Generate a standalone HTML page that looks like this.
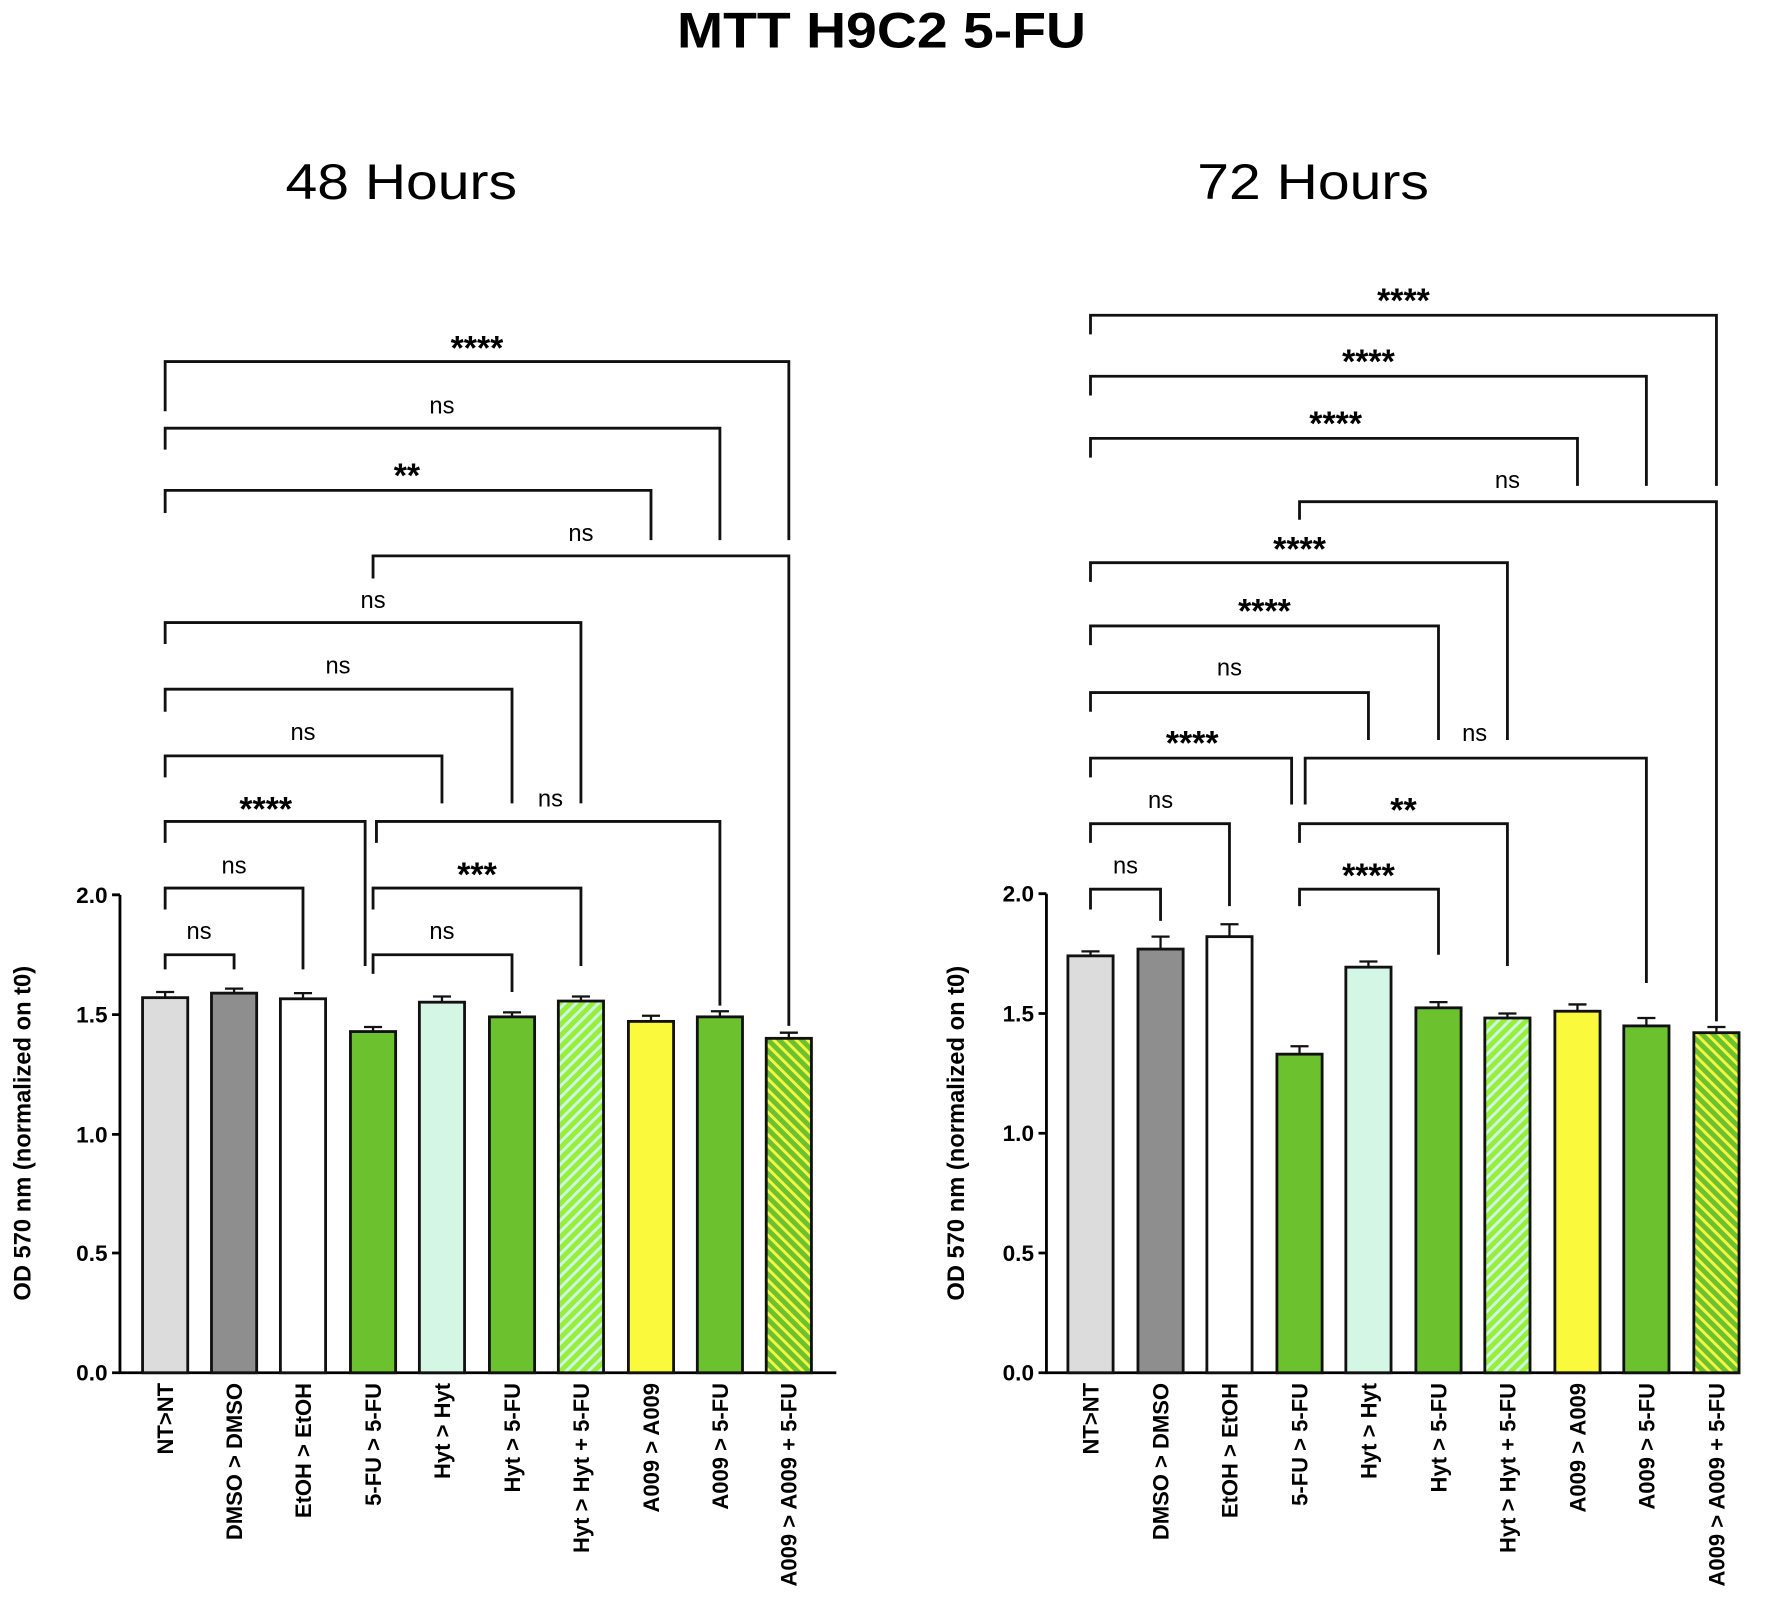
<!DOCTYPE html>
<html><head><meta charset="utf-8"><style>
html,body{margin:0;padding:0;background:#fff;}
svg{display:block;}
.t{font-family:"Liberation Sans",sans-serif;}
</style></head><body>
<svg width="1772" height="1601" viewBox="0 0 1568 1417" xmlns="http://www.w3.org/2000/svg">
<defs>
<pattern id="hh" patternUnits="userSpaceOnUse" width="7" height="7" patternTransform="rotate(45)">
<rect width="7" height="7" fill="#98ef3a"/><rect width="2.6" height="7" fill="#cdf6e6"/></pattern>
<pattern id="ha" patternUnits="userSpaceOnUse" width="7" height="7" patternTransform="rotate(-45)">
<rect width="7" height="7" fill="#6cc22e"/><rect width="2.6" height="7" fill="#f5f542"/></pattern>
</defs>
<rect width="1568" height="1417" fill="#fff"/>
<text class="t" x="780" y="42" text-anchor="middle" font-size="44" font-weight="bold" textLength="362" lengthAdjust="spacingAndGlyphs">MTT H9C2 5-FU</text>
<text class="t" x="355" y="176" text-anchor="middle" font-size="44" textLength="205" lengthAdjust="spacingAndGlyphs">48 Hours</text>
<text class="t" x="1162" y="176" text-anchor="middle" font-size="44" textLength="205" lengthAdjust="spacingAndGlyphs">72 Hours</text>

<g stroke="#000" stroke-width="2.5" fill="none">
<path d="M106,792 V1215 H740"/>
<path d="M99,792 H106 M99,898 H106 M99,1004 H106 M99,1109 H106 M99,1215 H106"/>
<path d="M926,791 V1215 H1540"/>
<path d="M919,791 H926 M919,897 H926 M919,1003 H926 M919,1109 H926 M919,1215 H926"/>
</g>

<g class="t" font-size="20" font-weight="bold" text-anchor="end">
<text x="95" y="799">2.0</text><text x="95" y="905">1.5</text><text x="95" y="1011">1.0</text><text x="95" y="1116">0.5</text><text x="95" y="1222">0.0</text>
<text x="915" y="798">2.0</text><text x="915" y="904">1.5</text><text x="915" y="1010">1.0</text><text x="915" y="1116">0.5</text><text x="915" y="1222">0.0</text>
</g>
<text class="t" font-size="21" font-weight="bold" text-anchor="middle" transform="translate(27,1003) rotate(-90)">OD 570 nm (normalized on t0)</text>
<text class="t" font-size="21" font-weight="bold" text-anchor="middle" transform="translate(853,1003) rotate(-90)">OD 570 nm (normalized on t0)</text>

<g stroke="#111" stroke-width="2.5">
<rect x="126" y="883" width="40" height="332" fill="#dcdcdc"/>
<rect x="187" y="879" width="40" height="336" fill="#8e8e8e"/>
<rect x="248" y="884" width="40" height="331" fill="#fff"/>
<rect x="310" y="913" width="40" height="302" fill="#6cc22e"/>
<rect x="371" y="887" width="40" height="328" fill="#d4f6e5"/>
<rect x="433" y="900" width="40" height="315" fill="#6cc22e"/>
<rect x="494" y="886" width="40" height="329" fill="url(#hh)"/>
<rect x="556" y="904" width="40" height="311" fill="#fbf93b"/>
<rect x="617" y="900" width="40" height="315" fill="#6cc22e"/>
<rect x="678" y="919" width="40" height="296" fill="url(#ha)"/>
</g>
<g stroke="#111" stroke-width="2" fill="none">
<path d="M146,883V878M138,878H154 M207,879V875M199,875H215 M268,884V879M260,879H276 M330,913V909M322,909H338 M391,887V882M383,882H399 M453,900V896M445,896H461 M514,886V882M506,882H522 M576,904V899M568,899H584 M637,900V895M629,895H645 M698,919V914M690,914H706"/>
</g>

<g stroke="#111" stroke-width="2.5">
<rect x="945" y="846" width="40" height="369" fill="#dcdcdc"/>
<rect x="1007" y="840" width="40" height="375" fill="#8e8e8e"/>
<rect x="1068" y="829" width="40" height="386" fill="#fff"/>
<rect x="1130" y="933" width="40" height="282" fill="#6cc22e"/>
<rect x="1191" y="856" width="40" height="359" fill="#d4f6e5"/>
<rect x="1253" y="892" width="40" height="323" fill="#6cc22e"/>
<rect x="1314" y="901" width="40" height="314" fill="url(#hh)"/>
<rect x="1376" y="895" width="40" height="320" fill="#fbf93b"/>
<rect x="1437" y="908" width="40" height="307" fill="#6cc22e"/>
<rect x="1499" y="914" width="40" height="301" fill="url(#ha)"/>
</g>
<g stroke="#111" stroke-width="2" fill="none">
<path d="M965,846V842M957,842H973 M1027,840V829M1019,829H1035 M1088,829V818M1080,818H1096 M1150,933V926M1142,926H1158 M1211,856V851M1203,851H1219 M1273,892V887M1265,887H1281 M1334,901V897M1326,897H1342 M1396,895V889M1388,889H1404 M1457,908V901M1449,901H1465 M1519,914V909M1511,909H1527"/>
</g>

<g class="t" font-size="19.5" font-weight="bold" text-anchor="end">
<text transform="translate(153,1224) rotate(-90)">NT&gt;NT</text>
<text transform="translate(214,1224) rotate(-90)">DMSO &gt; DMSO</text>
<text transform="translate(275,1224) rotate(-90)">EtOH &gt; EtOH</text>
<text transform="translate(337,1224) rotate(-90)">5-FU &gt; 5-FU</text>
<text transform="translate(398,1224) rotate(-90)">Hyt &gt; Hyt</text>
<text transform="translate(460,1224) rotate(-90)">Hyt &gt; 5-FU</text>
<text transform="translate(521,1224) rotate(-90)">Hyt &gt; Hyt + 5-FU</text>
<text transform="translate(583,1224) rotate(-90)">A009 &gt; A009</text>
<text transform="translate(644,1224) rotate(-90)">A009 &gt; 5-FU</text>
<text transform="translate(705,1224) rotate(-90)">A009 &gt; A009 + 5-FU</text>
<text transform="translate(972,1224) rotate(-90)">NT&gt;NT</text>
<text transform="translate(1034,1224) rotate(-90)">DMSO &gt; DMSO</text>
<text transform="translate(1095,1224) rotate(-90)">EtOH &gt; EtOH</text>
<text transform="translate(1157,1224) rotate(-90)">5-FU &gt; 5-FU</text>
<text transform="translate(1218,1224) rotate(-90)">Hyt &gt; Hyt</text>
<text transform="translate(1280,1224) rotate(-90)">Hyt &gt; 5-FU</text>
<text transform="translate(1341,1224) rotate(-90)">Hyt &gt; Hyt + 5-FU</text>
<text transform="translate(1403,1224) rotate(-90)">A009 &gt; A009</text>
<text transform="translate(1464,1224) rotate(-90)">A009 &gt; 5-FU</text>
<text transform="translate(1526,1224) rotate(-90)">A009 &gt; A009 + 5-FU</text>
</g>

<g stroke="#111" stroke-width="2.5" fill="none">
<path d="M146,858V845H207V858"/>
<path d="M146,805V786H268V858"/>
<path d="M146,746V727H323V855"/>
<path d="M146,688V669H391V711"/>
<path d="M146,630V610H453V711"/>
<path d="M146,570V551H514V711"/>
<path d="M330,512V492H698V908"/>
<path d="M146,454V434H576V478"/>
<path d="M146,398V379H637V478"/>
<path d="M146,364V320H698V478"/>
<path d="M330,862V845H453V878"/>
<path d="M330,805V786H514V855"/>
<path d="M333,746V727H637V890"/>
</g>
<g class="t" font-size="21" text-anchor="middle">
<text x="176" y="831">ns</text><text x="207" y="773">ns</text><text x="268" y="655">ns</text><text x="299" y="596">ns</text><text x="330" y="538">ns</text><text x="514" y="479">ns</text><text x="391" y="366">ns</text><text x="391" y="831">ns</text><text x="487" y="714">ns</text>
</g>
<g class="t" font-size="30" font-weight="bold" text-anchor="middle">
<text x="235" y="726">****</text><text x="422" y="784">***</text><text x="360" y="431">**</text><text x="422" y="318">****</text>
</g>

<g stroke="#111" stroke-width="2.5" fill="none">
<path d="M965,805V787H1027V815"/>
<path d="M965,746V729H1088V802"/>
<path d="M965,688V671H1143V712"/>
<path d="M965,630V613H1211V655"/>
<path d="M965,571V554H1273V655"/>
<path d="M965,515V498H1334V655"/>
<path d="M1150,460V444H1519V904"/>
<path d="M965,405V388H1396V430"/>
<path d="M965,350V333H1457V430"/>
<path d="M965,296V279H1519V430"/>
<path d="M1150,802V787H1273V845"/>
<path d="M1150,746V729H1334V855"/>
<path d="M1155,712V671H1457V870"/>
</g>
<g class="t" font-size="21" text-anchor="middle">
<text x="996" y="773">ns</text><text x="1027" y="715">ns</text><text x="1088" y="598">ns</text><text x="1334" y="432">ns</text><text x="1305" y="656">ns</text>
</g>
<g class="t" font-size="30" font-weight="bold" text-anchor="middle">
<text x="1055" y="668">****</text><text x="1119" y="551">****</text><text x="1150" y="496">****</text><text x="1182" y="385">****</text><text x="1211" y="330">****</text><text x="1242" y="276">****</text><text x="1211" y="785">****</text><text x="1242" y="727">**</text>
</g>
</svg>
</body></html>
